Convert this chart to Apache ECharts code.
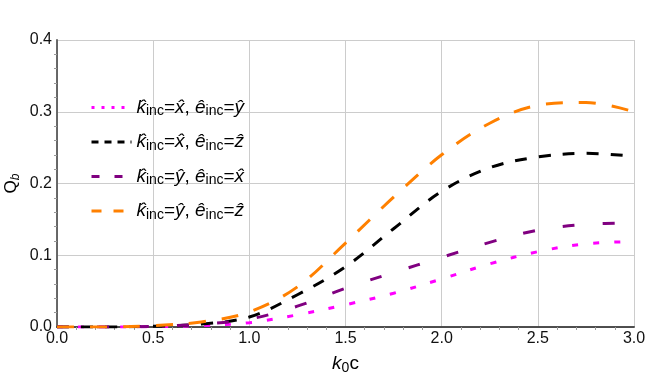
<!DOCTYPE html>
<html lang="en">
<head>
    <meta charset="UTF-8">
    <title>Q_b vs k0c</title>
    <script src="https://cdn.jsdelivr.net/npm/echarts@6/dist/echarts.min.js"></script>
</head>
<body style="margin:0">
    <div id="main" style="width: 648px; height: 379px;"></div>

    <script type="text/javascript">
        let k0c = [0, 0.25, 0.5, 0.75, 1.0, 1.25, 1.5, 1.75, 2.0, 2.25, 2.5, 2.75, 3.0]

        let kxEy = [0, 0, 0.0005, 0.002, 0.006, 0.017, 0.031, 0.047, 0.067, 0.088, 0.105, 0.116, 0.119]
        let kxEz = [0, 0, 0.001, 0.004, 0.014, 0.045, 0.084, 0.137, 0.189, 0.222, 0.237, 0.242, 0.238]
        let kyEx = [0, 0, 0.001, 0.004, 0.011, 0.029, 0.054, 0.076, 0.097, 0.118, 0.135, 0.143, 0.145]
        let kyEz = [0, 0, 0.002, 0.007, 0.021, 0.056, 0.117, 0.181, 0.240, 0.284, 0.309, 0.313, 0.300]

        let xTicks = [0, 0.5, 1.0, 1.5, 2.0, 2.5, 3.0]
        let yTicks = [0, 0.1, 0.2, 0.3, 0.4]

        const font = 'Liberation Sans, Arial, DejaVu Sans, sans-serif'

        // legend labels as rich text: hat + italic + subscript
        let labels = {
            kxEy: '{i|k\u0302}{s|inc}{n|=}{i|x\u0302}{n|, }{i|\u00ea}{s|inc}{n|=}{i|\u0177}',
            kxEz: '{i|k\u0302}{s|inc}{n|=}{i|x\u0302}{n|, }{i|\u00ea}{s|inc}{n|=}{i|\u1e91}',
            kyEx: '{i|k\u0302}{s|inc}{n|=}{i|\u0177}{n|, }{i|\u00ea}{s|inc}{n|=}{i|x\u0302}',
            kyEz: '{i|k\u0302}{s|inc}{n|=}{i|\u0177}{n|, }{i|\u00ea}{s|inc}{n|=}{i|\u1e91}'
        }

        function pairs(ys) {
            return k0c.map((x, i) => [x, ys[i]])
        }

        function makeSeries(name, ys, color, dash) {
            return {
                name: name,
                type: 'line',
                data: pairs(ys),
                smooth: 0.35,
                symbol: 'none',
                lineStyle: {color: color, width: 3, type: dash, cap: 'butt'},
                itemStyle: {color: color},
                z: 3
            }
        }

        let richText = {
            i: {fontStyle: 'italic', fontSize: 19, fontFamily: font, color: '#000', lineHeight: 22},
            n: {fontSize: 19, fontFamily: font, color: '#000', lineHeight: 22},
            s: {fontSize: 14, fontFamily: font, color: '#000', lineHeight: 15, verticalAlign: 'bottom'}
        }

        let options = {
            animation: false,
            grid: {left: 57, right: 14, top: 40, bottom: 52, containLabel: false, outerBoundsMode: 'none'},
            legend: {
                orient: 'vertical',
                left: 85,
                top: 93,
                itemWidth: 40,
                itemHeight: 14,
                itemGap: 14,
                itemStyle: {opacity: 0},
                formatter: name => labels[name],
                textStyle: {rich: richText},
                data: [
                    {name: 'kxEy', lineStyle: {type: [3, 7], width: 3}},
                    {name: 'kxEz', lineStyle: {type: [7, 6], width: 3}},
                    {name: 'kyEx', lineStyle: {type: [8, 15], width: 3}},
                    {name: 'kyEz', lineStyle: {type: [10, 12], width: 3}}
                ]
            },
            xAxis: [{
                type: 'value',
                min: 0, max: 3, interval: 0.5,
                name: '{i|k}{s|0}{n|c}',
                nameLocation: 'middle',
                nameGap: 26,
                nameMoveOverlap: false,
                nameTextStyle: {rich: richText},
                axisLine: {lineStyle: {color: '#000', width: 1.5}},
                axisTick: {show: false},
                axisLabel: {
                    formatter: v => v.toFixed(1),
                    fontSize: 16, fontFamily: font, color: '#111', margin: 4
                },
                splitLine: {lineStyle: {color: '#cccccc', width: 1}}
            }, {
                type: 'value',
                position: 'top',
                min: 0, max: 3, interval: 0.5,
                axisLine: {show: true, lineStyle: {color: '#555', width: 1.5}},
                axisTick: {show: false, inside: true},
                minorTick: {show: true, splitNumber: 5, length: 3, lineStyle: {color: '#999'}},
                axisLabel: {show: false},
                splitLine: {show: false}
            }],
            yAxis: [{
                type: 'value',
                min: 0, max: 0.4, interval: 0.1,
                name: '{n|Q}{sb|b}',
                nameLocation: 'middle',
                nameGap: 35,
                nameMoveOverlap: false,
                nameTextStyle: {
                    rich: {
                        n: {fontSize: 17, fontFamily: font, color: '#000', lineHeight: 22},
                        sb: {fontSize: 12, fontStyle: 'italic', fontFamily: font, color: '#000', lineHeight: 14, verticalAlign: 'bottom'}
                    }
                },
                axisLine: {show: true, lineStyle: {color: '#000', width: 1.5}},
                axisTick: {show: false},
                axisLabel: {
                    formatter: v => v.toFixed(1),
                    fontSize: 16, fontFamily: font, color: '#111', margin: 5
                },
                splitLine: {lineStyle: {color: '#cccccc', width: 1}}
            }, {
                type: 'value',
                position: 'right',
                min: 0, max: 0.4, interval: 0.1,
                axisLine: {show: true, lineStyle: {color: '#777', width: 1.5}},
                axisTick: {show: false, inside: true},
                minorTick: {show: true, splitNumber: 5, length: 3, lineStyle: {color: '#999'}},
                axisLabel: {show: false},
                splitLine: {show: false}
            }],
            series: [
                makeSeries('kxEy', kxEy, '#ff00ff', [6, 15]),
                makeSeries('kxEz', kxEz, '#000000', [12, 12]),
                makeSeries('kyEx', kyEx, '#800080', [12, 28]),
                makeSeries('kyEz', kyEz, '#ff8000', [17, 16])
            ]
        }

        let myChart = echarts.init(document.getElementById('main'))
        myChart.setOption(options)
    </script>
</body>
</html>
